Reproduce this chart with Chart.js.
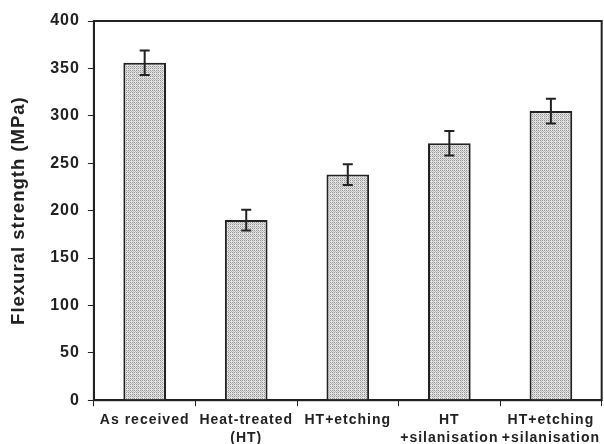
<!DOCTYPE html>
<html>
<head>
<meta charset="utf-8">
<script src="https://cdn.jsdelivr.net/npm/chart.js@4"></script>
<style>
  html, body { margin: 0; padding: 0; background: #fff; }
  #wrap { width: 604px; height: 444px; }
</style>
</head>
<body>
<div id="wrap"><canvas id="chart" width="604" height="444"></canvas></div>
<script>
// data
const categories = [
  'As received',
  ['Heat-treated', '(HT)'],
  'HT+etching',
  ['HT', '+silanisation'],
  ['HT+etching', '+silanisation']
];
const strength = [356, 190, 238, 271, 305];
const errors = [13, 11, 11, 13, 13];
const yTicks = [0, 50, 100, 150, 200, 250, 300, 350, 400];

const ink = '#222';
const font = 'Arial, "Liberation Sans", sans-serif';

// stippled grey fill like the print
function makePattern() {
  const c = document.createElement('canvas');
  c.width = 4; c.height = 4;
  const g = c.getContext('2d');
  g.fillStyle = '#e4e4e4';
  g.fillRect(0, 0, 4, 4);
  g.fillStyle = '#959595';
  g.fillRect(0, 0, 1, 1);
  g.fillRect(2, 2, 1, 1);
  g.fillRect(2, 0, 1, 1);
  g.fillRect(0, 2, 1, 1);
  g.fillStyle = '#bbbbbb';
  g.fillRect(1, 1, 1, 1);
  g.fillRect(3, 3, 1, 1);
  g.fillRect(1, 3, 1, 1);
  return g.createPattern(c, 'repeat');
}

// the print uses a wider face, so space the letters out a bit
// (canvas resizes wipe the context state, so set it before layout and draw)
const spacing = {
  id: 'spacing',
  beforeLayout(chart) { chart.ctx.letterSpacing = '1px'; },
  beforeDraw(chart) { chart.ctx.letterSpacing = '1px'; }
};

// error bars + frame around the plot
const extras = {
  id: 'extras',
  afterDatasetsDraw(chart) {
    const ctx = chart.ctx;
    const x = chart.scales.x;
    const y = chart.scales.y;
    ctx.save();
    ctx.strokeStyle = ink;
    ctx.lineWidth = 2;
    strength.forEach((v, i) => {
      const cx = x.getPixelForValue(i);
      const top = y.getPixelForValue(v + errors[i]);
      const bot = y.getPixelForValue(v - errors[i]);
      ctx.beginPath();
      ctx.moveTo(cx, top); ctx.lineTo(cx, bot);
      ctx.moveTo(cx - 5, top); ctx.lineTo(cx + 5, top);
      ctx.moveTo(cx - 5, bot); ctx.lineTo(cx + 5, bot);
      ctx.stroke();
    });
    const a = chart.chartArea;
    ctx.lineWidth = 2;
    ctx.strokeRect(a.left, a.top, a.right - a.left, a.bottom - a.top);
    ctx.restore();
  }
};

new Chart(document.getElementById('chart'), {
  type: 'bar',
  data: {
    labels: categories,
    datasets: [{
      data: strength,
      backgroundColor: makePattern(),
      borderColor: ink,
      borderWidth: 2,
      barPercentage: 0.42,
      categoryPercentage: 1
    }]
  },
  options: {
    animation: false,
    responsive: false,
    layout: { padding: { top: 21, right: 0, left: 8, bottom: -8 } },
    plugins: { legend: { display: false }, tooltip: { enabled: false } },
    scales: {
      x: {
        grid: { drawOnChartArea: false, color: ink, tickLength: 6, offset: true },
        border: { color: ink, width: 2 },
        ticks: { color: ink, font: { family: font, size: 14, weight: 'bold', lineHeight: 1.35 }, maxRotation: 0, autoSkip: false, padding: 4 }
      },
      y: {
        min: 0,
        max: 400,
        afterBuildTicks(axis) { axis.ticks = yTicks.map(v => ({ value: v })); },
        grid: { drawOnChartArea: false, color: ink, tickLength: 6 },
        border: { color: ink, width: 2 },
        ticks: { color: ink, font: { family: font, size: 16, weight: 'bold' }, padding: 8 },
        title: {
          display: true,
          text: 'Flexural strength (MPa)',
          color: ink,
          font: { family: font, size: 18.5, weight: 'bold' },
          padding: { top: 0, bottom: 12 }
        }
      }
    }
  },
  plugins: [spacing, extras]
});
</script>
</body>
</html>
